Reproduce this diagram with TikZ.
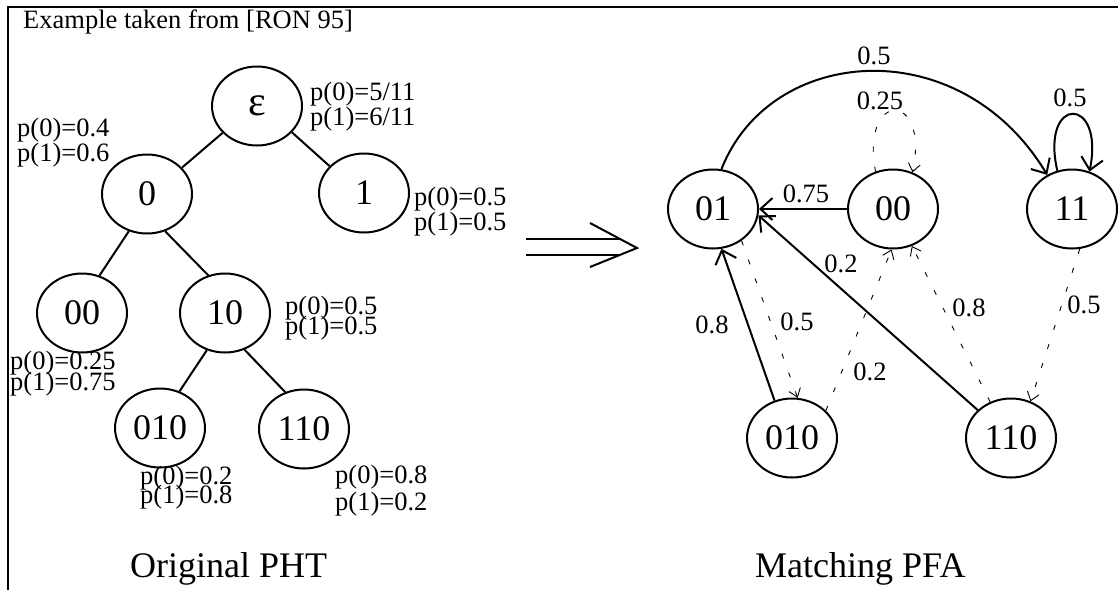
\documentclass[tikz,border=0pt]{standalone}
\usepackage{fontspec}
\setmainfont{Liberation Serif}
\usetikzlibrary{shapes.geometric,arrows.meta}
\begin{document}
\begin{tikzpicture}[x=1pt,y=-1pt,
  state/.style={draw, ellipse, line width=2pt, minimum width=90pt, minimum height=79pt,
    inner sep=0pt, font=\fontsize{36}{36}\selectfont},
  prob/.style={anchor=base west, inner sep=0pt, font=\fontsize{26.5}{26.5}\selectfont},
  lbl/.style={inner sep=0pt, font=\fontsize{26.5}{26.5}\selectfont},
  caption/.style={anchor=base west, inner sep=0pt, font=\fontsize{36}{36}\selectfont},
  treeedge/.style={line width=2pt},
  symone/.style={line width=2pt, -{Straight Barb[length=12pt,width=22pt,line width=2pt]}},
  symzero/.style={line width=0.9pt, dash pattern=on 5pt off 15pt,
    -{Straight Barb[length=8pt,width=12pt,line width=0.9pt]}}
]
\useasboundingbox (0,0) rectangle (1118,590);

% frame
\draw[line width=2.2pt] (8,590) -- (8,7) -- (1118,7);
\node[prob] (title) at (23,28) {Example taken from [RON 95]};

% ---------- probabilistic suffix tree ----------
\node[state, font=\fontsize{42}{42}\selectfont] (te)   at (257,106) {ε};
\node[state] (t0)   at (147,194) {0};
\node[state] (t1)   at (364,193) {1};
\node[state] (t00)  at (82,313)  {00};
\node[state] (t10)  at (225,313) {10};
\node[state] (t010) at (160,428) {010};
\node[state] (t110) at (304,429) {110};

\draw[treeedge] (te.218) -- (t0.37);
\draw[treeedge] (te.323) -- (t1.142);
\draw[treeedge] (t0.244) -- (t00.65);
\draw[treeedge] (t0.296) -- (t10.114);
\draw[treeedge] (t10.244) -- (t010.62);
\draw[treeedge] (t10.298) -- (t110.117);

\node[prob] (pe0) at (310,100) {p(0)=5/11};
\node[prob] (pe1) at (310,125) {p(1)=6/11};
\node[prob] (p00a) at (17,136) {p(0)=0.4};
\node[prob] (p01a) at (17,161) {p(1)=0.6};
\node[prob] (p10a) at (414,205) {p(0)=0.5};
\node[prob] (p11a) at (414,230) {p(1)=0.5};
\node[prob] (p00b) at (10,369) {p(0)=0.25};
\node[prob] (p01b) at (10,390) {p(1)=0.75};
\node[prob] (p00c) at (285,314) {p(0)=0.5};
\node[prob] (p01c) at (285,334) {p(1)=0.5};
\node[prob] (p00d) at (140,484) {p(0)=0.2};
\node[prob] (p01d) at (140,503) {p(1)=0.8};
\node[prob] (p00e) at (335,483) {p(0)=0.8};
\node[prob] (p01e) at (335,510) {p(1)=0.2};

\node[caption] (cap1) at (130,577) {Original PHT};

% ---------- implication arrow ----------
\draw[line width=2pt] (526,239) -- (620,239);
\draw[line width=2pt] (526,255) -- (620,255);
\draw[line width=2pt] (590,223) -- (637,248) -- (590,267);

% ---------- probabilistic finite automaton ----------
\node[state] (a01)  at (713,209)  {01};
\node[state] (a00)  at (893,209)  {00};
\node[state] (a11)  at (1072,209) {11};
\node[state] (a010) at (792,438)  {010};
\node[state] (a110) at (1011,438) {110};

% transitions on symbol 1
\draw[symone] (a01.78) .. controls (770,45) and (960,30) .. (a11.126);
\draw[symone] (a11.111) .. controls (1040,95) and (1105,95) .. (a11.65);
\draw[symone] (a00.west) -- (a01.east);
\draw[symone] (a110.140) -- (a01.-8);
\draw[symone] (a010.115) -- (a01.282);

% transitions on symbol 0
\draw[symzero] (a00.115) .. controls (860,90) and (930,90) .. (a00.62);
\draw[symzero] (a01.-48) -- (a010.82);
\draw[symzero] (a010.39) -- (a00.268);
\draw[symzero] (a110.120) -- (a00.297);
\draw[symzero] (a11.281) -- (a110.62);

\node[lbl] (l1)  at (874,56)   {0.5};
\node[lbl] (l2)  at (880,101)  {0.25};
\node[lbl] (l3)  at (1070,98)  {0.5};
\node[lbl] (l4)  at (806,194)  {0.75};
\node[lbl] (l5)  at (841,264)  {0.2};
\node[lbl] (l6)  at (712,325)  {0.8};
\node[lbl] (l7)  at (797,322)  {0.5};
\node[lbl] (l8)  at (870,372)  {0.2};
\node[lbl] (l9)  at (969,308)  {0.8};
\node[lbl] (l10) at (1084,305) {0.5};

\node[caption] (cap2) at (755,577) {Matching PFA};
\end{tikzpicture}
\end{document}
